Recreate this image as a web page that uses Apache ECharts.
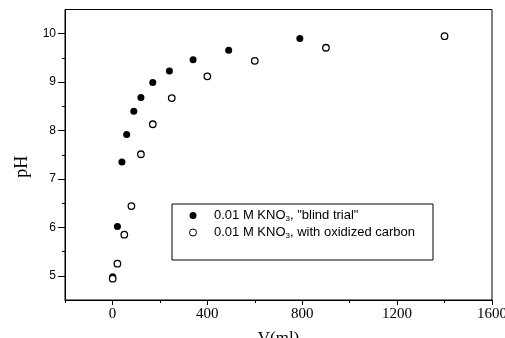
<!DOCTYPE html>
<html>
<head>
<meta charset="utf-8">
<script src="https://cdn.jsdelivr.net/npm/echarts@6/dist/echarts.min.js"></script>
<style>html,body{margin:0;padding:0;background:#fff}#c{width:505px;height:338px}</style>
</head>
<body>
<div id="c"></div>
<script>
// Data
const blindV  = [1, 21, 40, 60, 90, 120, 170, 240, 340, 490, 790];
const blindPH = [4.98, 6.02, 7.35, 7.92, 8.40, 8.68, 8.99, 9.23, 9.46, 9.66, 9.90];
const carbonV  = [1, 21, 50, 80, 120, 170, 250, 400, 600, 900, 1400];
const carbonPH = [4.94, 5.25, 5.85, 6.44, 7.51, 8.13, 8.67, 9.12, 9.44, 9.71, 9.95];
const xTickLabels = [0, 400, 800, 1200, 1600];
const xMinorTicks = [-200, 200, 600, 1000, 1400];
const yTickLabels = [5, 6, 7, 8, 9, 10];
const yMinorTicks = [5.5, 6.5, 7.5, 8.5, 9.5];
const seriesNames = ['blind', 'carbon'];

const legendLabels = {
  blind: '{t|0.01 M KNO}{s|3}{t|, "blind trial"}',
  carbon: '{t|0.01 M KNO}{s|3}{t|, with oxidized carbon}'
};

const chart = echarts.init(document.getElementById('c'), null, {renderer: 'canvas'});
const pair = (a, b) => a.map((v, i) => [v, b[i]]);
const plain = v => String(v);

chart.setOption({
  animation: false,
  backgroundColor: '#fff',
  grid: {left: 65, right: 13, top: 9.5, bottom: 38, outerBoundsMode: 'none', containLabel: false,
         show: true, borderColor: '#000', borderWidth: 1, backgroundColor: 'transparent'},
  legend: {
    orient: 'vertical', left: 172, top: 204,
    padding: [5, 18, 20, 17], itemGap: 3,
    itemWidth: 32, itemHeight: 7,
    borderColor: '#000', borderWidth: 1,
    data: [{name: seriesNames[0]}, {name: seriesNames[1], itemStyle: {borderWidth: 1}}],
    formatter: n => legendLabels[n],
    textStyle: {
      rich: {
        t: {fontFamily: 'Liberation Sans', fontSize: 13, color: '#000'},
        s: {fontFamily: 'Liberation Sans', fontSize: 8, color: '#000', padding: [7, 0, 0, 0]}
      }
    }
  },
  xAxis: [{
    type: 'value', min: -200, max: 1600,
    name: 'V(ml)', nameLocation: 'middle', nameGap: 30,
    nameTextStyle: {fontFamily: 'Liberation Serif', fontSize: 17, color: '#000'},
    axisLine: {onZero: false, lineStyle: {color: '#000', width: 1}},
    axisTick: {show: true, customValues: xTickLabels, length: 5, lineStyle: {color: '#000'}},
    axisLabel: {customValues: xTickLabels, formatter: plain, margin: 7, fontFamily: 'Liberation Serif', fontSize: 15, color: '#000'},
    splitLine: {show: false}
  }, {
    type: 'value', min: -200, max: 1600, position: 'bottom',
    axisLine: {show: false, onZero: false},
    axisTick: {show: true, customValues: xMinorTicks, length: 3, lineStyle: {color: '#000'}},
    axisLabel: {show: false}, splitLine: {show: false}
  }],
  yAxis: [{
    type: 'value', min: 4.5, max: 10.5,
    name: 'pH', nameLocation: 'middle', nameGap: 28, nameRotate: 90,
    nameTextStyle: {fontFamily: 'Liberation Serif', fontSize: 18, color: '#000', padding: [0, 24, 0, 0]},
    axisLine: {show: true, onZero: false, lineStyle: {color: '#000', width: 1}},
    axisTick: {show: true, customValues: yTickLabels, length: 7, lineStyle: {color: '#000'}},
    axisLabel: {customValues: yTickLabels, formatter: plain, margin: 9, fontFamily: 'Liberation Sans', fontSize: 12, color: '#000'},
    splitLine: {show: false}
  }, {
    type: 'value', min: 4.5, max: 10.5, position: 'left',
    axisLine: {show: false, onZero: false},
    axisTick: {show: true, customValues: yMinorTicks, length: 3, lineStyle: {color: '#000'}},
    axisLabel: {show: false}, splitLine: {show: false}
  }],
  series: [{
    name: 'blind', type: 'scatter', symbol: 'circle', symbolSize: 7,
    itemStyle: {color: '#000', opacity: 1},
    data: pair(blindV, blindPH)
  }, {
    name: 'carbon', type: 'scatter', symbol: 'circle', symbolSize: 6.5,
    itemStyle: {color: '#fff', borderColor: '#000', borderWidth: 1.3, opacity: 1},
    data: pair(carbonV, carbonPH)
  }]
});
</script>
</body>
</html>
